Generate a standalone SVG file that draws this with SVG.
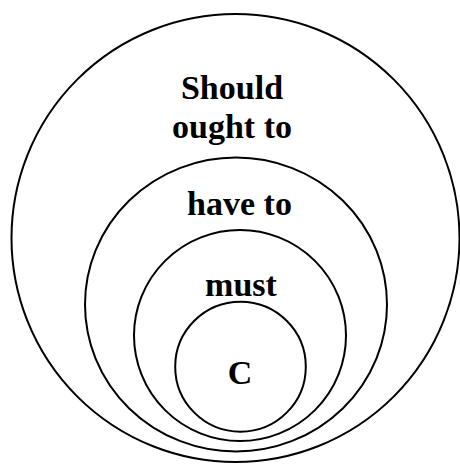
<svg xmlns="http://www.w3.org/2000/svg" width="460" height="464" viewBox="0 0 460 464">
<style>
.c{fill:none;stroke:#000;stroke-width:2}
.t{font-family:"Liberation Serif","Times New Roman",serif;font-weight:bold;font-size:34px;text-anchor:middle;fill:#000}
</style>
<rect width="460" height="464" fill="#fff"/>
<g id="outer"><ellipse class="c" cx="235.5" cy="238" rx="224" ry="224"/><text class="t" x="232" y="99">Should</text><text class="t" x="232" y="138">ought to</text></g>
<g id="haveto"><ellipse class="c" cx="236" cy="304.5" rx="151" ry="147"/><text class="t" x="239.5" y="215">have to</text></g>
<g id="must"><ellipse class="c" cx="240" cy="335.5" rx="106" ry="105.5"/><text class="t" x="241" y="296">must</text></g>
<g id="c"><ellipse class="c" cx="240.5" cy="366.7" rx="65.3" ry="65"/><text class="t" x="240" y="384">C</text></g>
<g id="connectors"></g>
</svg>
